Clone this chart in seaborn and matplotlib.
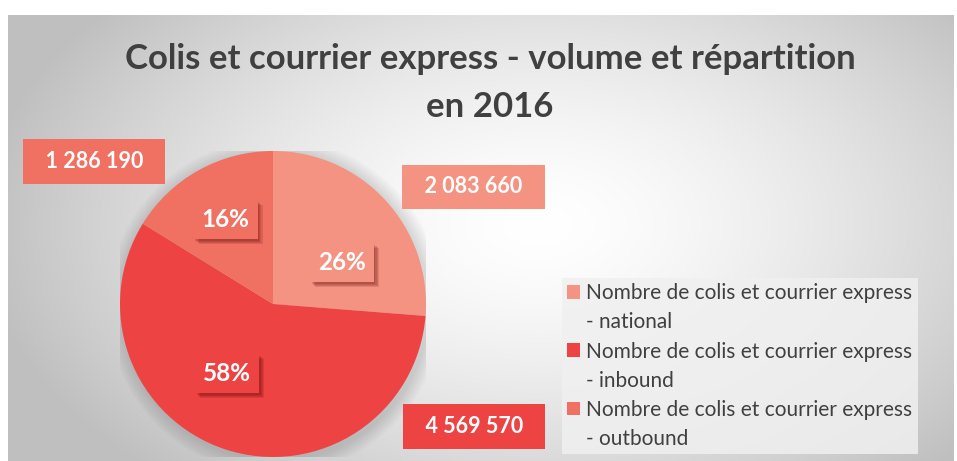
import numpy as np
import matplotlib
matplotlib.use("Agg")
import matplotlib.pyplot as plt
import matplotlib.patheffects as pe
from matplotlib.patches import Patch
import seaborn as sns

# ---- data ----
categories = ["national", "inbound", "outbound"]
values = [2083660, 4569570, 1286190]
legend_labels = [
    "Nombre de colis et courrier express\n- national",
    "Nombre de colis et courrier express\n- inbound",
    "Nombre de colis et courrier express\n- outbound",
]
title_text = "Colis et courrier express - volume et répartition\nen 2016"

sns.set_theme(style="white")
plt.rcParams["font.family"] = ["Lato", "DejaVu Sans"]

palette = sns.color_palette(["#F49381", "#EE4343", "#F07061"])

W, H = 957, 461
fig = plt.figure(figsize=(W / 100, H / 100), dpi=100, facecolor="white")

# ---- radial gradient background ----
bg = fig.add_axes([8 / W, 0, (954 - 8) / W, (H - 15) / H], zorder=-10)
nx, ny = 946, 446
xx, yy = np.meshgrid(np.arange(nx), np.arange(ny))
cx, cy = 530, 210
d = np.sqrt(((xx - cx) / 560.0) ** 2 + ((yy - cy) / 340.0) ** 2)
d = np.clip(d, 0, 1)
g = 1.0 - 0.25 * d ** 1.5
img = np.dstack([g, g, g])
bg.imshow(img, aspect="auto", interpolation="bilinear")
bg.set_axis_off()

# ---- pie ----
cxp, cyp, r = 273, 304, 153
ax = fig.add_axes([(cxp - r) / W, (H - cyp - r) / H, 2 * r / W, 2 * r / H])

# soft glow around the pie
for k in range(8):
    c = plt.Circle((0.015, -0.015), 1.0 + 0.012 * (k + 1), color="black",
                   alpha=0.016, lw=0, zorder=0)
    ax.add_patch(c)

wedges, _ = ax.pie(values, colors=palette, startangle=90, counterclock=False,
                   radius=1.0, wedgeprops=dict(edgecolor="none", linewidth=0))
for w_ in wedges:
    w_.set_zorder(2)
ax.set_xlim(-1, 1)
ax.set_ylim(-1, 1)
ax.set_aspect("equal")
ax.set_axis_off()

total = float(sum(values))
pcts = [f"{round(100 * v / total):.0f}%" for v in values]
vals_txt = [f"{v:,}".replace(",", " ") for v in values]

# label anchor positions in pie-radius units (style)
pct_pos = [(0.45, 0.27), (-0.30, -0.455), (-0.31, 0.55)]
val_pos = [(1.31, 0.765), (1.315, -0.80), (-1.17, 0.93)]

shadow = [pe.withSimplePatchShadow(offset=(o, -o), shadow_rgbFace="#5a0000", alpha=0.13)
          for o in (1.2, 2.0, 2.8, 3.6)] + [pe.Normal()]
for i in range(3):
    t = ax.text(*pct_pos[i], pcts[i], ha="center", va="center", color="white",
                fontsize=17.5, fontweight="bold", zorder=5,
                bbox=dict(boxstyle="square,pad=0.33", fc=palette[i], ec="none"))
    t.get_bbox_patch().set_path_effects(shadow)
    ax.text(*val_pos[i], "  " + vals_txt[i] + "  ", ha="center", va="center",
            color="white", fontsize=15.5, fontweight="bold", zorder=5,
            bbox=dict(boxstyle="square,pad=0.55", fc=palette[i], ec="none"))

# ---- title ----
fig.text(490 / W, 1 - 83 / H, title_text, ha="center", va="center",
         fontsize=25, fontweight="bold", color="#404040", linespacing=1.65)

# ---- legend (one row per text line) ----
handles, labels = [], []
for i, lab in enumerate(legend_labels):
    first, second = lab.split("\n")
    handles.append(Patch(facecolor=palette[i], edgecolor="none"))
    labels.append(first)
    handles.append(Patch(facecolor="none", edgecolor="none"))
    labels.append(second)
leg = fig.legend(handles, labels, loc="upper left",
                 bbox_to_anchor=(562 / W, 1 - 278 / H), frameon=True,
                 fontsize=15, labelcolor="#404040", handlelength=0.62,
                 handleheight=0.62, handletextpad=0.3, labelspacing=0.44,
                 borderpad=0.25, fancybox=False, borderaxespad=0)
leg.get_frame().set_facecolor("#f0f0f0")
leg.get_frame().set_alpha(0.85)
leg.get_frame().set_edgecolor("none")

fig.savefig("out.png", dpi=100, facecolor="white")
